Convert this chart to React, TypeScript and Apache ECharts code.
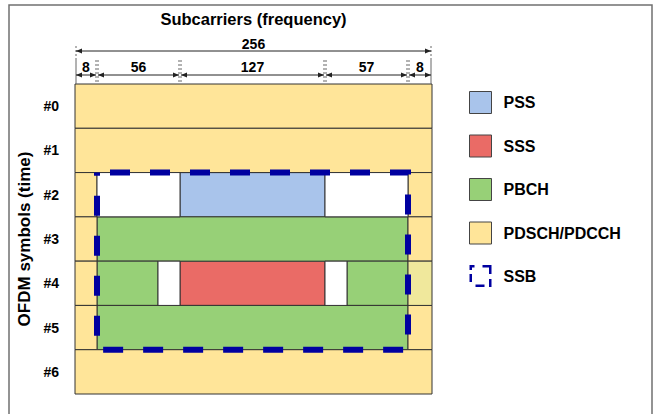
import React, { useEffect, useRef } from "react";
import * as echarts from "echarts";

// ---------- data ----------
const symbols = ["#0", "#1", "#2", "#3", "#4", "#5", "#6"];
const subcarrierCounts = [8, 56, 127, 57, 8];
const totalSubcarriers = 256;
// schematic (not-to-scale) widths of the subcarrier segments, diagram units
const segmentSpans = [22, 83, 145, 83, 24];
const channels = ["PSS", "SSS", "PBCH", "PDSCH/PDCCH", "SSB"];

// cells: [symbol index, x start, x end, channel] in diagram units
const cells: [number, number, number, string][] = [
  [0, 0, 357, "PDSCH/PDCCH"],
  [1, 0, 357, "PDSCH/PDCCH"],
  [2, 0, 22, "PDSCH/PDCCH"],
  [2, 22, 105, "Unused"],
  [2, 105, 250, "PSS"],
  [2, 250, 333, "Unused"],
  [2, 333, 357, "PDSCH/PDCCH"],
  [3, 0, 22, "PDSCH/PDCCH"],
  [3, 22, 333, "PBCH"],
  [3, 333, 357, "PDSCH/PDCCH"],
  [4, 0, 22, "PDSCH/PDCCH"],
  [4, 22, 83, "PBCH"],
  [4, 83, 105, "Unused"],
  [4, 105, 250, "SSS"],
  [4, 250, 272, "Unused"],
  [4, 272, 333, "PBCH"],
  [4, 333, 357, "Overlap"],
  [5, 0, 22, "PDSCH/PDCCH"],
  [5, 22, 333, "PBCH"],
  [5, 333, 357, "PDSCH/PDCCH"],
  [6, 0, 357, "PDSCH/PDCCH"],
];

// SSB block: [x start, x end, first symbol, last symbol]
const ssbBlock: [number, number, number, number][] = [[22, 333, 2, 5]];

// ---------- styles ----------
const colors: Record<string, string> = {
  PSS: "#A9C4EB",
  SSS: "#EA6B66",
  PBCH: "#97D077",
  "PDSCH/PDCCH": "#FFE599",
  Unused: "#FFFFFF",
  Overlap: "#F0E89C",
  SSB: "#0000A0",
};
const FONT = "'Liberation Sans', Arial, Helvetica, sans-serif";

function App() {
  const ref = useRef<HTMLDivElement>(null);
  useEffect(() => {
    if (!ref.current) return;
    const chart = echarts.init(ref.current, null, { renderer: "svg" });

    const edges: number[] = [0];
    segmentSpans.forEach((s) => edges.push(edges[edges.length - 1] + s));
    const xMax = edges[edges.length - 1];

    const dimData: number[][] = [[0, xMax, 0, totalSubcarriers]];
    subcarrierCounts.forEach((c, i) => dimData.push([edges[i], edges[i + 1], 1, c]));

    const cellSeries = ["PSS", "SSS", "PBCH", "PDSCH/PDCCH", "Unused", "Overlap"].map((ch) => ({
      type: "custom",
      name: ch,
      clip: false,
      itemStyle: { color: colors[ch] },
      encode: { x: [1, 2], y: 0 },
      data: cells.filter((c) => c[3] === ch).map((c) => [c[0], c[1], c[2]]),
      renderItem: (params: any, api: any) => {
        const sym = api.value(0);
        const p0 = api.coord([api.value(1), sym]);
        const p1 = api.coord([api.value(2), sym]);
        const h = api.size([0, 1])[1];
        return {
          type: "rect",
          shape: { x: p0[0], y: p0[1] - h / 2, width: p1[0] - p0[0], height: h },
          style: { fill: colors[ch], stroke: "#333", lineWidth: 1 },
        };
      },
      z: 2,
    }));

    const ssbSeries = {
      type: "custom",
      name: "SSB",
      clip: false,
      itemStyle: { color: colors.SSB },
      encode: { x: [0, 1] },
      data: ssbBlock,
      renderItem: (params: any, api: any) => {
        const a = api.coord([api.value(0), api.value(2)]);
        const b = api.coord([api.value(1), api.value(3)]);
        const h = api.size([0, 1])[1];
        return {
          type: "rect",
          shape: { x: a[0], y: a[1] - h / 2, width: b[0] - a[0], height: b[1] - a[1] + h },
          style: {
            fill: "none",
            stroke: colors.SSB,
            lineWidth: 6,
            lineDash: [20, 20],
            lineDashOffset: 27,
          },
          z2: 10,
        };
      },
      z: 5,
    };

    const dimSeries = {
      type: "custom",
      name: "dims",
      clip: false,
      silent: true,
      encode: { x: [0, 1] },
      data: dimData,
      renderItem: (params: any, api: any) => {
        const level = api.value(2);
        const top0 = api.coord([0, 0]);
        const h = api.size([0, 1])[1];
        const gridTop = top0[1] - h / 2;
        const x0 = api.coord([api.value(0), 0])[0] + 1;
        const x1 = api.coord([api.value(1), 0])[0] - 1;
        const ly = level === 0 ? gridTop - 33 : gridTop - 9;
        const ty = level === 0 ? gridTop - 40 : gridTop - 17;
        const dTop = level === 0 ? gridTop - 38 : gridTop - 24;
        const ah = 6,
          aw = 2.5;
        const stroke = "#222";
        const dotted = { stroke: "#666", lineWidth: 1, lineDash: [2, 2] };
        return {
          type: "group",
          children: [
            { type: "line", shape: { x1: x0, y1: dTop, x2: x0, y2: gridTop }, style: dotted },
            { type: "line", shape: { x1: x1, y1: dTop, x2: x1, y2: gridTop }, style: dotted },
            { type: "line", shape: { x1: x0, y1: ly, x2: x1, y2: ly }, style: { stroke, lineWidth: 1 } },
            {
              type: "polygon",
              shape: { points: [[x0, ly], [x0 + ah, ly - aw], [x0 + ah, ly + aw]] },
              style: { fill: stroke },
            },
            {
              type: "polygon",
              shape: { points: [[x1, ly], [x1 - ah, ly - aw], [x1 - ah, ly + aw]] },
              style: { fill: stroke },
            },
            {
              type: "text",
              style: {
                x: (x0 + x1) / 2,
                y: ty,
                text: String(api.value(3)),
                fill: "#000",
                font: `bold 14px ${FONT}`,
                align: "center",
                verticalAlign: "middle",
              },
            },
          ],
        };
      },
      z: 3,
    };

    const ssbIcon =
      "path://M0,0H5V2.5H2.5V5H0Z M13,0H22V9H19.5V2.5H13Z M0,9H2.5V17H0Z M6,19.5H15V22H6Z M19.5,14H22V22H19.5Z";

    chart.setOption({
      animation: false,
      textStyle: { fontFamily: FONT },
      grid: { left: 75, top: 84, width: 357, height: 310 },
      graphic: [
        {
          type: "rect",
          shape: { x: 9, y: 5, width: 643, height: 430 },
          style: { fill: "none", stroke: "#707070", lineWidth: 1.5 },
          z: -1,
          silent: true,
        },
      ],
      legend: {
        orient: "vertical",
        left: 464,
        top: 86,
        itemWidth: 22,
        itemHeight: 22,
        itemGap: 20.5,
        selectedMode: false,
        textStyle: { fontSize: 16, fontWeight: "bold", color: "#000", fontFamily: FONT, padding: [0, 0, 0, 7] },
        data: channels.map((c) =>
          c === "SSB"
            ? { name: c, icon: ssbIcon, itemStyle: { color: colors.SSB, borderWidth: 0 } }
            : { name: c, icon: "rect", itemStyle: { color: colors[c], borderColor: "#444", borderWidth: 1 } }
        ),
      },
      xAxis: {
        type: "value",
        position: "top",
        min: 0,
        max: xMax,
        axisLine: { show: false },
        axisTick: { show: false },
        axisLabel: { show: false },
        splitLine: { show: false },
        name: "Subcarriers (frequency)",
        nameLocation: "middle",
        nameGap: 57,
        nameTextStyle: { fontSize: 16.5, fontWeight: "bold", color: "#000" },
      },
      yAxis: {
        type: "category",
        data: symbols,
        inverse: true,
        axisLine: { show: false },
        axisTick: { show: false },
        splitLine: { show: false },
        axisLabel: { fontSize: 14, fontWeight: "bold", color: "#000", margin: 16 },
        name: "OFDM symbols (time)",
        nameLocation: "middle",
        nameMoveOverlap: false,
        nameGap: 42,
        nameTextStyle: { fontSize: 17, fontWeight: "bold", color: "#000" },
      },
      series: [...cellSeries, dimSeries, ssbSeries],
    });
    return () => chart.dispose();
  }, []);
  return (
    <div
      ref={ref}
      style={{ position: "fixed", left: 0, top: 0, width: 661, height: 414, background: "#fff" }}
    />
  );
}

export default App;
